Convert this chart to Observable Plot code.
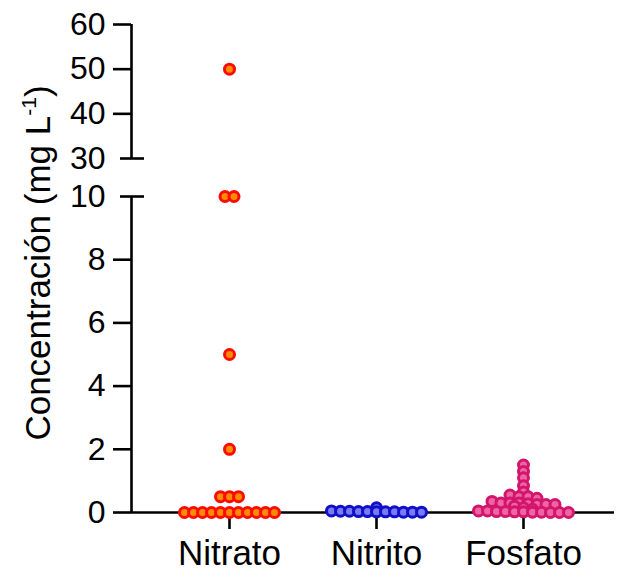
<!DOCTYPE html>
<html><head><meta charset="utf-8">
<script src="https://cdn.jsdelivr.net/npm/d3@7"></script>
<script src="https://cdn.jsdelivr.net/npm/@observablehq/plot@0.6"></script>
<style>body{margin:0;background:#fff}</style>
</head><body><div id="chart"></div>
<script>
// ---- data ----
const categories = ["Nitrato", "Nitrito", "Fosfato"];
const nitrato = [50, 10, 10, 5, 2, 0.5, 0.5, 0.5, 0, 0, 0, 0, 0, 0, 0, 0, 0, 0, 0];
const nitrito = [0.15, 0.05, 0.04, 0.04, 0.03, 0.03, 0.02, 0.02, 0.02, 0.01, 0.01, 0.01];
const fosfato = [1.5, 1.3, 1.1, 0.85, 0.65, 0.55, 0.5, 0.5, 0.45, 0.35, 0.3, 0.3, 0.3, 0.28, 0.25, 0.25, 0.25,
                 0.2, 0.15, 0.1, 0.05, 0.05, 0.03, 0.03, 0.02, 0.02, 0.01, 0.01, 0, 0, 0];
const fillColors = ["#ff8c00", "#7a7af5", "#ee64a4"];
const strokeColors = ["#ff0a00", "#1010c8", "#d3156c"];
const yTicks = [0, 2, 4, 6, 8, 40, 50, 60];
const yBreakTicks = [10, 30];
const ySegments = [{y1: 0, y2: 10}, {y1: 30, y2: 60}];
const yLabel = ["Concentración (mg L", "-1", ")"];

// ---- layout ----
const W = 617, H = 575;
const mL = 131, mR = 3, mT = 24, mB = 63;
const yDomain = [0, 10, 30, 60];
const yRange = [512, 196, 158, 24];
const xDomain = [-98 / 147, 2 + 91 / 147];
const ppu = (W - mL - mR) / (xDomain[1] - xDomain[0]);
const xmin = xDomain[0];

// Prism-like scatter: bin by pixel row, spread each row horizontally
const yPix = d3.scaleLinear().domain(yDomain).range(yRange);
const binH = 5, spacing = 9;
const series = [nitrato, nitrito, fosfato];
const points = [];
series.forEach((vals, i) => {
  const groups = d3.group(vals.map(v => ({v})), d => Math.round((yRange[0] - yPix(d.v)) / binH));
  for (const [, g] of groups) {
    const n = g.length;
    g.forEach((d, k) => points.push({cat: i, value: d.v, x: i + ((k - (n - 1) / 2) * spacing) / ppu}));
  }
});

const font = "'Liberation Sans', Arial, Helvetica, sans-serif";

const chart = Plot.plot({
  width: W, height: H,
  marginLeft: mL, marginRight: mR, marginTop: mT, marginBottom: mB,
  style: {fontFamily: font, color: "black", background: "white", overflow: "visible"},
  x: {type: "linear", domain: xDomain},
  y: {type: "linear", domain: yDomain, range: yRange},
  marks: [
    Plot.ruleX(ySegments, {x: xmin, y1: "y1", y2: "y2", stroke: "black", strokeWidth: 2.6}),
    Plot.ruleY([0], {stroke: "black", strokeWidth: 2.6}),
    Plot.ruleY(yBreakTicks, {x1: xmin - 11 / ppu, x2: xmin + 13 / ppu, stroke: "black", strokeWidth: 2.6}),
    Plot.axisY(yTicks, {tickSize: 18, tickPadding: 8, strokeWidth: 2.6, fontSize: 32, label: null}),
    Plot.axisY(yBreakTicks, {tickSize: 0, tickPadding: 26, fontSize: 32, label: null}),
    Plot.axisX([0, 1, 2], {tickFormat: i => categories[i], tickSize: 17, tickPadding: 11, strokeWidth: 2.6, fontSize: 35, label: null}),
    ...categories.map((c, i) => Plot.dot(points.filter(p => p.cat === i), {
      x: "x", y: "value", r: 5, fill: fillColors[i], stroke: strokeColors[i], strokeWidth: 3
    }))
  ]
});

// y-axis title with superscript
const svg = d3.select(chart);
const t = svg.append("text")
  .attr("transform", "translate(38,263) rotate(-90)")
  .attr("text-anchor", "middle")
  .attr("dy", "0.35em")
  .attr("font-family", font)
  .attr("font-size", 35)
  .attr("fill", "black");
t.append("tspan").text(yLabel[0]);
t.append("tspan").attr("font-size", 21).attr("dy", -14).text(yLabel[1]);
t.append("tspan").attr("dy", 14).text(yLabel[2]);

document.getElementById("chart").append(chart);
</script>
</body></html>
